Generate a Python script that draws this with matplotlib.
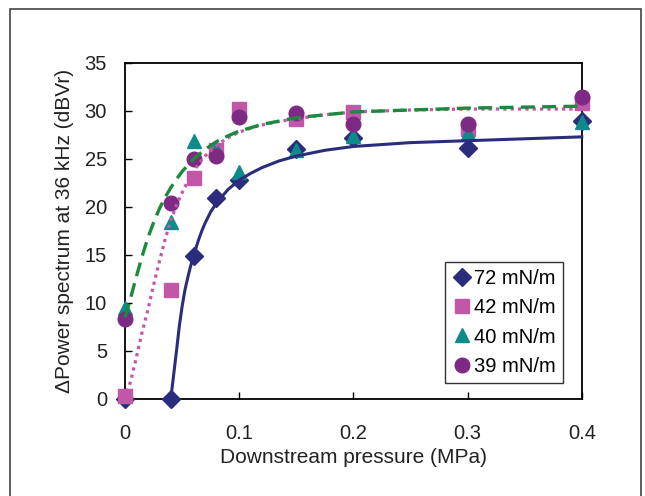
# Delta power spectrum vs downstream pressure, four surface tensions
import numpy as np
import matplotlib
matplotlib.use('Agg')
import matplotlib.pyplot as plt
from matplotlib.patches import Rectangle

plt.rcParams['font.family'] = ['Liberation Sans', 'DejaVu Sans']

# measured points
pressure = [0.0, 0.04, 0.06, 0.08, 0.1, 0.15, 0.2, 0.3, 0.4]
p72 = [0.0, 0.0, 14.9, 20.9, 22.8, 26.0, 27.2, 26.1, 29.0]
p42 = [0.3, 11.3, 23.0, 25.9, 30.2, 29.2, 29.9, 28.1, 30.8]
p40 = [9.5, 18.4, 26.9, 26.0, 23.6, 25.9, 27.4, 27.7, 28.8]
p39 = [8.3, 20.4, 25.0, 25.3, 29.4, 29.8, 28.6, 28.6, 31.5]

# fitted curves
fit72_x = [0.040, 0.0425, 0.045, 0.0475, 0.050, 0.0525, 0.055, 0.0575, 0.060, 0.0625,
           0.065, 0.0675, 0.070, 0.075, 0.080, 0.085, 0.090, 0.100, 0.110, 0.120,
           0.135, 0.150, 0.175, 0.200, 0.250, 0.300, 0.350, 0.400]
fit72_y = [0.0, 2.5, 5.0, 7.6, 9.7, 11.4, 12.7, 13.9, 14.9, 15.9,
           16.8, 17.6, 18.3, 19.5, 20.4, 21.1, 21.8, 22.8, 23.5, 24.1,
           24.8, 25.3, 25.9, 26.3, 26.7, 26.9, 27.1, 27.3]
fit42_x = [0.000, 0.005, 0.010, 0.015, 0.020, 0.025, 0.030, 0.035, 0.040, 0.045,
           0.050, 0.055, 0.060, 0.065, 0.070, 0.080, 0.090, 0.100, 0.115, 0.130,
           0.150, 0.175, 0.200, 0.250, 0.300, 0.400]
fit42_y = [0.0, 1.9, 4.4, 7.0, 9.3, 11.9, 14.3, 16.6, 18.6, 20.2,
           21.5, 22.7, 23.7, 24.6, 25.3, 26.4, 27.2, 27.8, 28.4, 28.8,
           29.2, 29.6, 29.9, 30.1, 30.2, 30.2]
fit40_x = [0.000, 0.005, 0.010, 0.015, 0.020, 0.025, 0.030, 0.035, 0.040, 0.045,
           0.050, 0.060, 0.070, 0.080, 0.090, 0.100, 0.120, 0.150, 0.200, 0.250,
           0.300, 0.400]
fit40_y = [8.5, 10.6, 12.8, 14.9, 16.8, 18.4, 19.8, 21.0, 22.0, 22.9,
           23.7, 25.0, 26.0, 26.8, 27.4, 27.9, 28.6, 29.3, 29.9, 30.1,
           30.3, 30.5]

labels = ['72 mN/m', '42 mN/m', '40 mN/m', '39 mN/m']
xticks = [0, 0.1, 0.2, 0.3, 0.4]
xticklabels = ['0', '0.1', '0.2', '0.3', '0.4']
yticks = [0, 5, 10, 15, 20, 25, 30, 35]

c72 = '#2b2d7c'
c42 = '#c157a6'
c40 = '#0e8a8a'
c39 = '#7e2a84'

fig = plt.figure(figsize=(6.45, 4.96), dpi=100)
fig.patches.append(Rectangle((0.0155, -0.05), 0.978, 1.032, transform=fig.transFigure,
                             fill=False, edgecolor='#444444', linewidth=1.2))
ax = fig.add_axes([0.194, 0.196, 0.708, 0.677])

ax.plot(pressure, p72, 'D', color=c72, ms=9, label=labels[0], zorder=3)
ax.plot(pressure, p42, 's', color=c42, ms=9.5, label=labels[1], zorder=3)
ax.plot(pressure, p40, '^', color=c40, ms=10.5, label=labels[2], zorder=3)
ax.plot(pressure, p39, 'o', color=c39, ms=10.5, label=labels[3], zorder=3)

ax.plot(fit72_x, fit72_y, '-', color=c72, lw=2.2, zorder=4)
ax.plot(fit42_x, fit42_y, color=c42, lw=2.3, dashes=(1, 1.3), zorder=4)
ax.plot(fit40_x, fit40_y, color='#1b8a3c', lw=2.4, dashes=(4.2, 2.2), zorder=4)

ax.set_xlim(0, 0.4)
ax.set_ylim(0, 35)
ax.set_xticks(xticks)
ax.set_xticklabels(xticklabels)
ax.set_yticks(yticks)
ax.tick_params(direction='in', length=5, width=1, labelsize=14.5, labelcolor='#222222')
ax.tick_params(axis='y', pad=13)
ax.tick_params(axis='x', pad=18)
for s in ax.spines.values():
    s.set_linewidth(1.3)
for ln in ax.lines:
    ln.set_clip_on(False)

ax.set_xlabel('Downstream pressure (MPa)', fontsize=15, color='#222222', labelpad=4)
ax.set_ylabel('\u0394Power spectrum at 36 kHz (dBVr)', fontsize=15, color='#222222', labelpad=8)

leg = ax.legend(loc='lower right', bbox_to_anchor=(0.958, 0.048), fontsize=14.5,
                frameon=True, fancybox=False, edgecolor='black', handletextpad=0.1,
                handlelength=1.0, borderpad=0.35, labelspacing=0.5, borderaxespad=0)
leg.get_frame().set_linewidth(1.0)

fig.savefig('out.png', dpi=100)
